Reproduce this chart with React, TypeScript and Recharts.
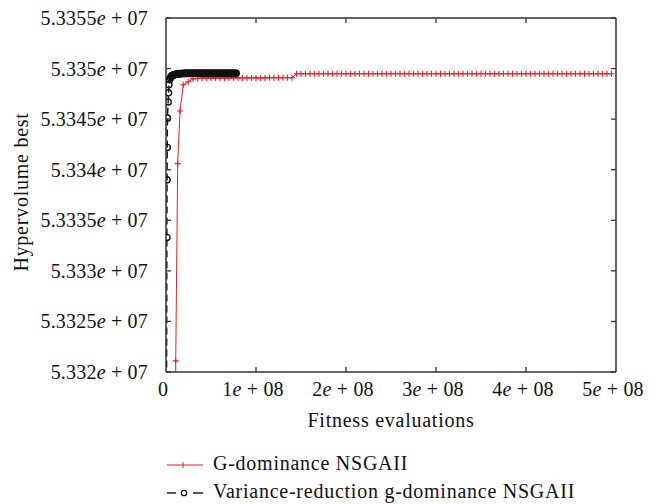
import React from "react";
import { LineChart, Line, XAxis, YAxis } from "recharts";

// ---- tick values and labels ----
const yTicks = [53320000, 53325000, 53330000, 53335000, 53340000, 53345000, 53350000, 53355000];
const yTickMantissas = ["5.332", "5.3325", "5.333", "5.3335", "5.334", "5.3345", "5.335", "5.3355"];
const yTickExponent = "07";
const xTicks = [0, 100000000, 200000000, 300000000, 400000000, 500000000];
const xTickMantissas = ["0", "1", "2", "3", "4", "5"];
const xTickExponent = "08";

// ---- series: G-dominance NSGAII (x in millions of fitness evaluations) ----
const redX = [
  10.5, 10.8, 13, 15.6, 19.2, 24.8, 30, 35, 40, 45, 50, 55, 60, 65, 70, 75, 80, 85, 90, 95, 100,
  105, 110, 115, 120, 125, 130, 135, 140,
  145, 150, 155, 160, 165, 170, 175, 180, 185, 190, 195, 200, 205, 210, 215, 220, 225, 230, 235,
  240, 245, 250, 255, 260, 265, 270, 275, 280, 285, 290, 295, 300, 305, 310, 315, 320, 325, 330,
  335, 340, 345, 350, 355, 360, 365, 370, 375, 380, 385, 390, 395, 400, 405, 410, 415, 420, 425,
  430, 435, 440, 445, 450, 455, 460, 465, 470, 475, 480, 485, 490, 495, 500,
];
const redY = [
  53300000, 53321100, 53340600, 53345800, 53348400, 53348700, 53348980, 53349020, 53349060,
  53349060, 53349060, 53349060, 53349060, 53349060, 53349060, 53349080, 53349080, 53349080,
  53349080, 53349080, 53349080, 53349080, 53349080, 53349100, 53349100, 53349100, 53349100,
  53349100, 53349100,
  53349490, 53349490, 53349490, 53349490, 53349490, 53349490, 53349490, 53349490, 53349490,
  53349490, 53349490, 53349490, 53349490, 53349490, 53349490, 53349490, 53349490, 53349490,
  53349490, 53349490, 53349490, 53349490, 53349490, 53349490, 53349490, 53349490, 53349490,
  53349490, 53349490, 53349490, 53349490, 53349490, 53349490, 53349490, 53349490, 53349490,
  53349490, 53349490, 53349490, 53349490, 53349490, 53349490, 53349490, 53349490, 53349490,
  53349490, 53349490, 53349490, 53349490, 53349490, 53349490, 53349490, 53349490, 53349490,
  53349490, 53349490, 53349490, 53349490, 53349490, 53349490, 53349490, 53349490, 53349490,
  53349490, 53349490, 53349490, 53349490, 53349490, 53349490, 53349490, 53349490,
];

// ---- series: Variance-reduction g-dominance NSGAII ----
const blackX = [
  0, 1.0, 1.2, 1.4, 1.6, 2.4, 2.8, 3.2, 4, 5, 6, 7, 8, 9, 10, 11, 12, 13, 14, 15, 16, 17, 18, 19, 20,
  21, 22, 23, 24, 25, 26, 27, 28, 29, 30, 31, 32, 33, 34, 35, 36, 37, 38, 39, 40,
  41, 42, 43, 44, 45, 46, 47, 48, 49, 50, 51, 52, 53, 54, 55, 56, 57, 58, 59, 60,
  61, 62, 63, 64, 65, 66, 67, 68, 69, 70, 71, 72, 73, 74, 75, 76, 77, 78,
];
const blackY = [
  53290000, 53333300, 53339000, 53342200, 53345100, 53346700, 53347600, 53348400, 53348900,
  53349100, 53349250, 53349310, 53349350, 53349390, 53349420, 53349440, 53349455, 53349470,
  53349480, 53349490, 53349500, 53349505, 53349510, 53349515, 53349520,
  53349530, 53349530, 53349530, 53349530, 53349530, 53349530, 53349530, 53349530, 53349530,
  53349530, 53349530, 53349530, 53349530, 53349530, 53349530, 53349530, 53349530, 53349530,
  53349530, 53349530,
  53349530, 53349530, 53349530, 53349530, 53349530, 53349530, 53349530, 53349530, 53349530,
  53349530, 53349530, 53349530, 53349530, 53349530, 53349530, 53349530, 53349530, 53349530,
  53349530, 53349530,
  53349530, 53349530, 53349530, 53349530, 53349530, 53349530, 53349530, 53349530, 53349530,
  53349530, 53349530, 53349530, 53349530, 53349530, 53349530, 53349530, 53349530, 53349530,
];

const redName = "G-dominance NSGAII";
const blackName = "Variance-reduction g-dominance NSGAII";
const xTitle = "Fitness evaluations";
const yTitle = "Hypervolume best";

const redData = redX.map((x, i) => ({ x: x * 1e6, y: redY[i] }));
const blackData = blackX.map((x, i) => ({ x: x * 1e6, y: blackY[i] }));

const FONT = "'Liberation Serif', 'Times New Roman', serif";
const FS = 20;
const AXIS = "#333";
const RED = "#ee1d23";
const BLACK = "#111";

const tickStyle: React.CSSProperties = { whiteSpace: "pre", letterSpacing: 0.2 };
const textStyle: React.CSSProperties = { whiteSpace: "pre", letterSpacing: 0.75 };

const LeftTick = (props: any) => {
  const { x, y, index } = props;
  return (
    <g>
      <line x1={x} y1={y} x2={x + 5} y2={y} stroke={AXIS} strokeWidth={1.3} />
      <text x={x - 18} y={y} textAnchor="end" dominantBaseline="central" fontFamily={FONT} fontSize={FS} fill="#111" style={tickStyle}>
        {yTickMantissas[index]}
        <tspan fontStyle="italic">e</tspan>
        {" + " + yTickExponent}
      </text>
    </g>
  );
};

const RightTick = (props: any) => {
  const { x, y } = props;
  return <line x1={x} y1={y} x2={x - 5} y2={y} stroke={AXIS} strokeWidth={1.3} />;
};

const BottomTick = (props: any) => {
  const { x, y, index } = props;
  const m = xTickMantissas[index];
  return (
    <g>
      {index > 0 && index < xTicks.length - 1 ? (
        <line x1={x} y1={y} x2={x} y2={y - 5} stroke={AXIS} strokeWidth={1.3} />
      ) : null}
      <text x={x - 3} y={y + 17} textAnchor="middle" dominantBaseline="central" fontFamily={FONT} fontSize={FS} fill="#111" style={tickStyle}>
        {m}
        {m !== "0" ? <tspan fontStyle="italic">e</tspan> : null}
        {m !== "0" ? " + " + xTickExponent : null}
      </text>
    </g>
  );
};

const TopTick = (props: any) => {
  const { x, y, index } = props;
  if (index === 0 || index === xTicks.length - 1) return <g />;
  return <line x1={x} y1={y} x2={x} y2={y + 5} stroke={AXIS} strokeWidth={1.3} />;
};

const CrossDot = (props: any) => {
  const { cx, cy, index } = props;
  if (cx == null || cy == null) return <g key={`c${index}`} />;
  return (
    <path key={`c${index}`} d={`M${cx - 3},${cy}H${cx + 3}M${cx},${cy - 3}V${cy + 3}`} stroke={RED} strokeWidth={1.1} fill="none" />
  );
};

const CircleDot = (props: any) => {
  const { cx, cy, index } = props;
  if (cx == null || cy == null) return <g key={`o${index}`} />;
  return <circle key={`o${index}`} cx={cx} cy={cy} r={3.1} fill="none" stroke={BLACK} strokeWidth={1.4} />;
};

export default function App() {
  return (
    <div style={{ position: "absolute", left: 0, top: 0, width: 659, height: 504, background: "#fff" }}>
      <LineChart width={659} height={504} margin={{ top: 0, right: 0, bottom: 0, left: 0 }}>
        <XAxis
          xAxisId={0}
          dataKey="x"
          type="number"
          domain={[0, 500000000]}
          ticks={xTicks}
          interval={0}
          allowDataOverflow
          height={132}
          tickSize={0}
          tickMargin={0}
          tickLine={false}
          axisLine={{ stroke: AXIS, strokeWidth: 1.5 }}
          tick={<BottomTick />}
        />
        <XAxis
          xAxisId="top"
          orientation="top"
          dataKey="x"
          type="number"
          domain={[0, 500000000]}
          ticks={xTicks}
          interval={0}
          allowDataOverflow
          height={18}
          tickSize={0}
          tickMargin={0}
          tickLine={false}
          axisLine={{ stroke: AXIS, strokeWidth: 1.5 }}
          tick={<TopTick />}
        />
        <YAxis
          yAxisId={0}
          type="number"
          domain={[53320000, 53355000]}
          ticks={yTicks}
          interval={0}
          allowDataOverflow
          width={166}
          tickSize={0}
          tickMargin={0}
          tickLine={false}
          axisLine={{ stroke: AXIS, strokeWidth: 1.5 }}
          tick={<LeftTick />}
        />
        <YAxis
          yAxisId="right"
          orientation="right"
          type="number"
          domain={[53320000, 53355000]}
          ticks={yTicks}
          interval={0}
          allowDataOverflow
          width={43}
          tickSize={0}
          tickMargin={0}
          tickLine={false}
          axisLine={{ stroke: AXIS, strokeWidth: 1.5 }}
          tick={<RightTick />}
        />
        <Line
          data={redData}
          dataKey="y"
          name={redName}
          type="linear"
          stroke={RED}
          strokeWidth={1}
          dot={CrossDot}
          activeDot={false}
          isAnimationActive={false}
        />
        <Line
          data={blackData}
          dataKey="y"
          name={blackName}
          type="linear"
          stroke={BLACK}
          strokeWidth={1.4}
          strokeDasharray="7 4"
          dot={CircleDot}
          activeDot={false}
          isAnimationActive={false}
        />
      </LineChart>
      <svg width={659} height={504} style={{ position: "absolute", left: 0, top: 0, pointerEvents: "none" }}>
        <text x={28} y={192} transform="rotate(-90, 28, 192)" textAnchor="middle" fontFamily={FONT} fontSize={FS} fill="#111" style={textStyle}>
          {yTitle}
        </text>
        <text x={391} y={427} textAnchor="middle" fontFamily={FONT} fontSize={FS} fill="#111" style={textStyle}>
          {xTitle}
        </text>
        <line x1={167} y1={465} x2={203} y2={465} stroke={RED} strokeWidth={1} />
        <path d="M183,462V468" stroke={RED} strokeWidth={1} />
        <text x={213} y={470} fontFamily={FONT} fontSize={FS} fill="#111" style={textStyle}>
          {redName}
        </text>
        <line x1={167} y1={493} x2={176} y2={493} stroke={BLACK} strokeWidth={1.4} />
        <line x1={193} y1={493} x2={203} y2={493} stroke={BLACK} strokeWidth={1.4} />
        <circle cx={184} cy={493} r={2.7} fill="none" stroke={BLACK} strokeWidth={1.3} />
        <text x={213} y={498} fontFamily={FONT} fontSize={FS} fill="#111" style={textStyle}>
          {blackName}
        </text>
      </svg>
    </div>
  );
}
